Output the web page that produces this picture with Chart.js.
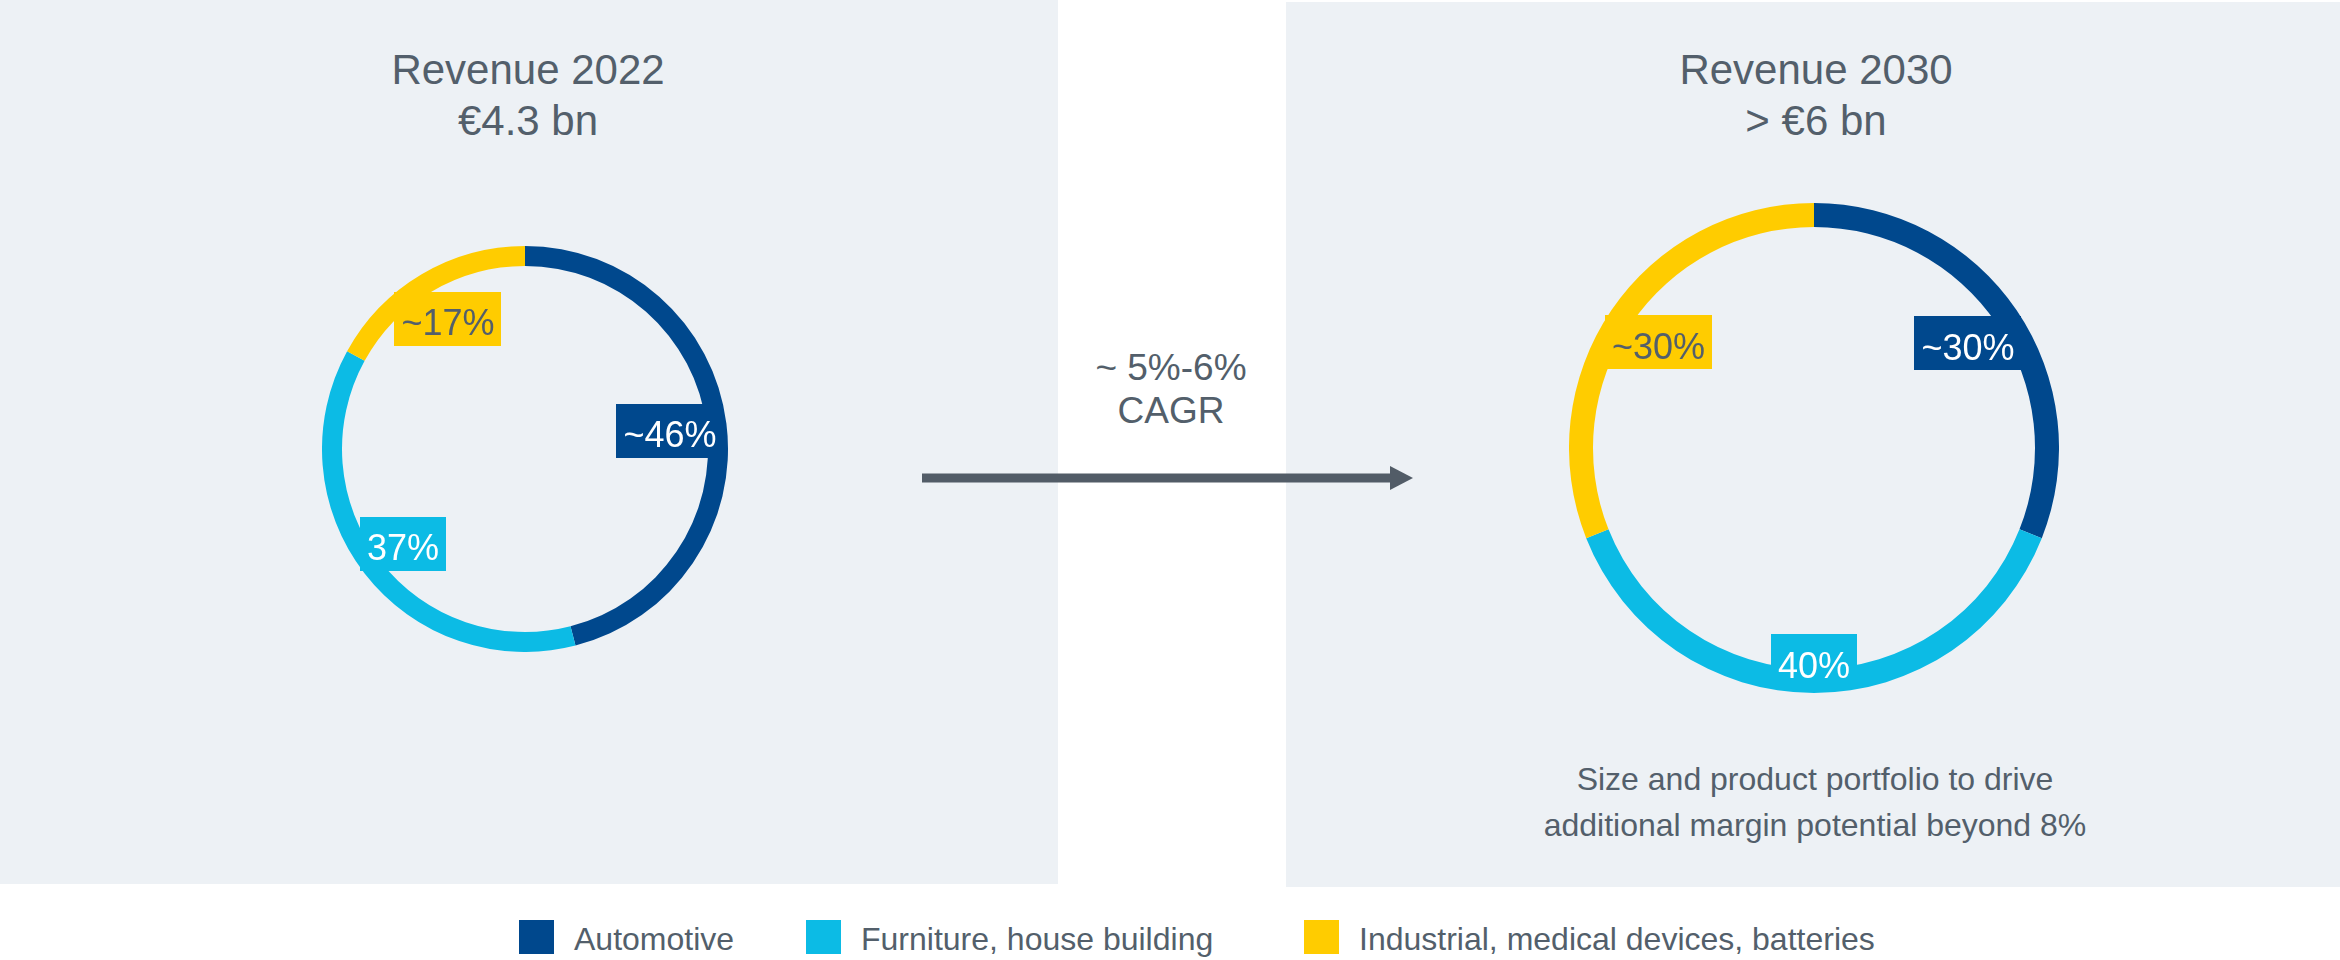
<!DOCTYPE html>
<html>
<head>
<meta charset="utf-8">
<script src="https://cdn.jsdelivr.net/npm/chart.js@4.4.1/dist/chart.umd.min.js"></script>
<style>
  body { margin: 0; width: 2340px; height: 960px; background: #fff; position: relative; overflow: hidden;
         font-family: "Liberation Sans", Arial, sans-serif; color: #535f6b; }
  .panel { position: absolute; background: #edf1f5; }
  .title { position: absolute; width: 600px; text-align: center; font-size: 42px; line-height: 51px; }
  .note { position: absolute; width: 700px; text-align: center; font-size: 32px; line-height: 46px; }
  .cagr { position: absolute; width: 300px; text-align: center; font-size: 37px; line-height: 43px; }
  .chartBox { position: absolute; }
  .legendItem { position: absolute; top: 920px; height: 34px; display: flex; white-space: nowrap; }
  .legendItem .sw { width: 35px; height: 34px; margin-right: 20px; }
  .legendItem span { font-size: 32px; line-height: 34px; padding-top: 2px; }
</style>
</head>
<body>
<div class="panel" style="left:0;top:0;width:1058px;height:884px"></div>
<div class="panel" style="left:1286px;top:2px;width:1054px;height:885px"></div>

<div class="title" style="left:228px;top:44px">Revenue 2022<br>€4.3 bn</div>
<div class="title" style="left:1516px;top:44px">Revenue 2030<br>&gt; €6 bn</div>

<div class="cagr" style="left:1021px;top:346px">~ 5%-6%<br>CAGR</div>
<svg style="position:absolute;left:0;top:0" width="2340" height="960">
  <line x1="922" y1="478" x2="1393" y2="478" stroke="#525c67" stroke-width="9"/>
  <polygon points="1390,466 1413,478 1390,490" fill="#525c67"/>
</svg>

<div class="chartBox" style="left:322px;top:246px"><canvas id="chart2022" width="406" height="406"></canvas></div>
<div class="chartBox" style="left:1569px;top:203px"><canvas id="chart2030" width="490" height="490"></canvas></div>

<div class="note" style="left:1465px;top:756px">Size and product portfolio to drive<br>additional margin potential beyond 8%</div>

<div id="legend"></div>

<script>
  const segments = ['Automotive', 'Furniture, house building', 'Industrial, medical devices, batteries'];
  const share2022 = [46, 37, 17];
  const share2030 = [31, 38, 31];
  const labels2022 = ['~46%', '37%', '~17%'];
  const labels2030 = ['~30%', '40%', '~30%'];
  const segmentColors = ['#00488d', '#0cbbe5', '#ffcc00'];
  const labelTextColors = ['#ffffff', '#ffffff', '#535f6b'];

  // legend built from the categories
  const legendX = [519, 806, 1304];
  const legend = document.getElementById('legend');
  segments.forEach(function(name, i) {
    const item = document.createElement('div');
    item.className = 'legendItem';
    item.style.left = legendX[i] + 'px';
    item.innerHTML = '<div class="sw" style="background:' + segmentColors[i] + '"></div><span>' + name + '</span>';
    legend.appendChild(item);
  });

  // boxed percentage labels sitting on the ring
  const boxLabels = {
    id: 'boxLabels',
    afterDatasetsDraw(chart, args, opts) {
      const ctx = chart.ctx;
      const meta = chart.getDatasetMeta(0);
      ctx.save();
      ctx.font = opts.fontSize + 'px "Liberation Sans", Arial, sans-serif';
      ctx.textAlign = 'center';
      ctx.textBaseline = 'alphabetic';
      meta.data.forEach(function(arc, i) {
        const mid = (arc.startAngle + arc.endAngle) / 2;
        const r = arc.outerRadius * opts.radius[i];
        const x = arc.x + Math.cos(mid) * r;
        const y = arc.y + Math.sin(mid) * r;
        const text = opts.texts[i];
        const w = ctx.measureText(text).width + opts.padX * 2;
        const h = opts.boxHeight;
        ctx.fillStyle = segmentColors[i];
        ctx.fillRect(Math.round(x - w / 2), Math.round(y - h / 2), Math.round(w), h);
        ctx.fillStyle = labelTextColors[i];
        ctx.fillText(text, x, y + opts.fontSize * 0.46);
      });
      ctx.restore();
    }
  };

  function makeDonut(id, values, texts, thickness, labelOpts) {
    const canvas = document.getElementById(id);
    const outer = canvas.width / 2;
    return new Chart(canvas.getContext('2d'), {
      type: 'doughnut',
      data: {
        labels: segments,
        datasets: [{
          data: values,
          backgroundColor: segmentColors,
          borderWidth: 0,
          hoverOffset: 0,
          offset: 0
        }]
      },
      options: {
        responsive: false,
        animation: false,
        cutout: outer - thickness,
        layout: { padding: 0 },
        plugins: {
          legend: { display: false },
          tooltip: { enabled: false },
          boxLabels: Object.assign({ texts: texts }, labelOpts)
        }
      },
      plugins: [boxLabels]
    });
  }

  window.onload = function() {
    makeDonut('chart2022', share2022, labels2022, 20,
      { fontSize: 36, padX: 7, boxHeight: 54, radius: [0.72, 0.76, 0.745] });
    makeDonut('chart2030', share2030, labels2030, 24,
      { fontSize: 36, padX: 7, boxHeight: 54, radius: [0.76, 0.871, 0.767] });
  };
</script>
</body>
</html>
